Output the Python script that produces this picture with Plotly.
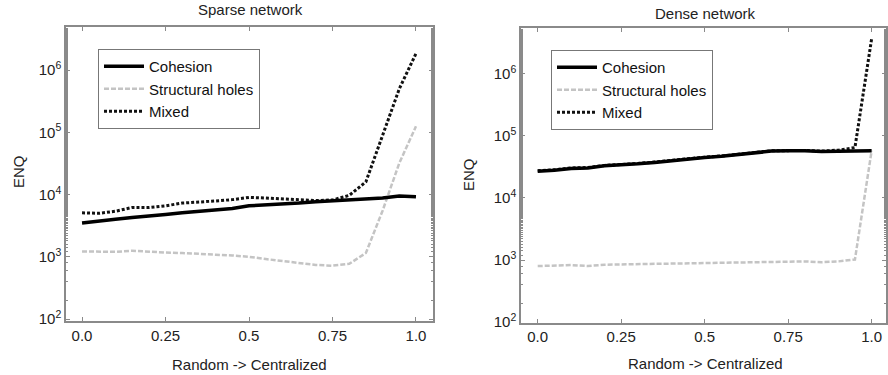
import plotly.graph_objects as go

x_vals = [0.0, 0.05, 0.1, 0.15, 0.2, 0.25, 0.3, 0.35, 0.4, 0.45, 0.5,
          0.55, 0.6, 0.65, 0.7, 0.75, 0.8, 0.85, 0.9, 0.95, 1.0]

# Sparse network
sparse_cohesion = [3500, 3700, 4000, 4300, 4500, 4800, 5100, 5400, 5700, 6000, 6600,
                   6800, 7000, 7300, 7700, 8000, 8300, 8500, 8800, 9500, 9200]
sparse_holes = [1220, 1200, 1200, 1250, 1200, 1170, 1150, 1130, 1080, 1050, 1000,
                920, 850, 780, 740, 720, 770, 1150, 5500, 32000, 125000]
sparse_mixed = [5100, 5000, 5400, 6200, 6200, 6600, 7300, 7700, 7900, 8300, 9000,
                8800, 8500, 8100, 8000, 8200, 9700, 16000, 90000, 500000, 1850000]

# Dense network
dense_cohesion = [27000, 28000, 30000, 30500, 33000, 34000, 35500, 37500, 40000, 42000, 45000,
                  47000, 50000, 53000, 57000, 57500, 58000, 56000, 57000, 57500, 58000]
dense_holes = [800, 820, 830, 800, 840, 850, 860, 870, 880, 890, 900,
               910, 920, 930, 940, 950, 950, 920, 950, 1020, 58000]
dense_mixed = [27500, 28500, 30500, 31000, 33500, 34500, 36000, 38000, 40500, 42500, 45500,
               47500, 50500, 53500, 57500, 58000, 58500, 57000, 59000, 65000, 3700000]

x_tick_vals = [0.0, 0.25, 0.5, 0.75, 1.0]
x_tick_text = ["0.0", "0.25", "0.5", "0.75", "1.0"]
y_tick_vals = [100, 1000, 10000, 100000, 1000000]
y_tick_text = ["10<sup>2</sup>", "10<sup>3</sup>", "10<sup>4</sup>", "10<sup>5</sup>", "10<sup>6</sup>"]

titles = ["Sparse network", "Dense network"]
x_title = "Random -> Centralized"
y_title = "ENQ"

FONT = "Liberation Sans, Arial, sans-serif"
AX = "#8a8a8a"

fig = go.Figure()

def add_panel(idx, coh, holes, mixed):
    xa = "x" if idx == 1 else "x2"
    ya = "y" if idx == 1 else "y2"
    lg = "legend" if idx == 1 else "legend2"
    fig.add_trace(go.Scatter(x=x_vals, y=mixed, mode="lines", name="Mixed",
                             line=dict(color="#111111", width=3, dash="3px,2px"),
                             xaxis=xa, yaxis=ya, legend=lg, legendrank=3))
    fig.add_trace(go.Scatter(x=x_vals, y=holes, mode="lines", name="Structural holes",
                             line=dict(color="#c4c4c4", width=2.5, dash="5px,2px"),
                             xaxis=xa, yaxis=ya, legend=lg, legendrank=2))
    fig.add_trace(go.Scatter(x=x_vals, y=coh, mode="lines", name="Cohesion",
                             line=dict(color="#000000", width=3.5),
                             xaxis=xa, yaxis=ya, legend=lg, legendrank=1))

add_panel(1, sparse_cohesion, sparse_holes, sparse_mixed)
add_panel(2, dense_cohesion, dense_holes, dense_mixed)

def xaxis(domain, rng, anchor):
    return dict(domain=domain, range=rng, anchor=anchor,
                tickvals=x_tick_vals, ticktext=x_tick_text,
                ticks="inside", ticklen=4, tickcolor=AX,
                showline=True, linecolor=AX, linewidth=1.5, mirror="allticks",
                showgrid=False, zeroline=False, automargin=False,
                tickfont=dict(family=FONT, size=15, color="#222"))

def yaxis(domain, rng, anchor):
    return dict(domain=domain, range=rng, anchor=anchor, type="log",
                tickvals=y_tick_vals, ticktext=y_tick_text,
                ticks="inside", ticklen=4, tickcolor=AX,
                minor=dict(ticks="inside", ticklen=2.5, tickcolor=AX, showgrid=False),
                showline=True, linecolor=AX, linewidth=1.5, mirror="allticks",
                showgrid=False, zeroline=False, automargin=False,
                tickfont=dict(family=FONT, size=15, color="#222"))

leg_common = dict(bgcolor="white", bordercolor="#777", borderwidth=1,
                  font=dict(family=FONT, size=15, color="#111"),
                  xanchor="left", yanchor="top", tracegroupgap=0, itemwidth=40)

fig.update_layout(
    width=888, height=375,
    margin=dict(l=0, r=0, t=0, b=0),
    paper_bgcolor="white", plot_bgcolor="white",
    showlegend=True,
    xaxis=xaxis([66/888, 433/888], [-0.048, 1.051], "y"),
    yaxis=yaxis([0.144, 0.928], [1.968, 6.694], "x"),
    xaxis2=xaxis([521/888, 886/888], [-0.05, 1.043], "y2"),
    yaxis2=yaxis([0.1395, 0.9253], [1.99, 6.74], "x2"),
    legend=dict(x=98/888, y=(375-49)/375, **leg_common),
    legend2=dict(x=551/888, y=(375-50)/375, **leg_common),
)

annots = [
    dict(text=titles[0], x=250, y=10),
    dict(text=titles[1], x=705, y=14),
    dict(text=x_title, x=249, y=364),
    dict(text=x_title, x=705, y=363),
]
for a in annots:
    fig.add_annotation(text=a["text"], x=a["x"]/888, y=1-a["y"]/375, xref="paper", yref="paper",
                       showarrow=False, xanchor="center", yanchor="middle",
                       font=dict(family=FONT, size=15, color="#222"))
for xx, yy in [(18, 172), (468, 174)]:
    fig.add_annotation(text=y_title, x=xx/888, y=1-yy/375, xref="paper", yref="paper",
                       showarrow=False, xanchor="center", yanchor="middle", textangle=-90,
                       font=dict(family=FONT, size=15, color="#222"))

fig.write_html("out.html", config={"displayModeBar": False},
               post_script="document.body.style.margin='0';document.body.style.overflow='hidden';")
